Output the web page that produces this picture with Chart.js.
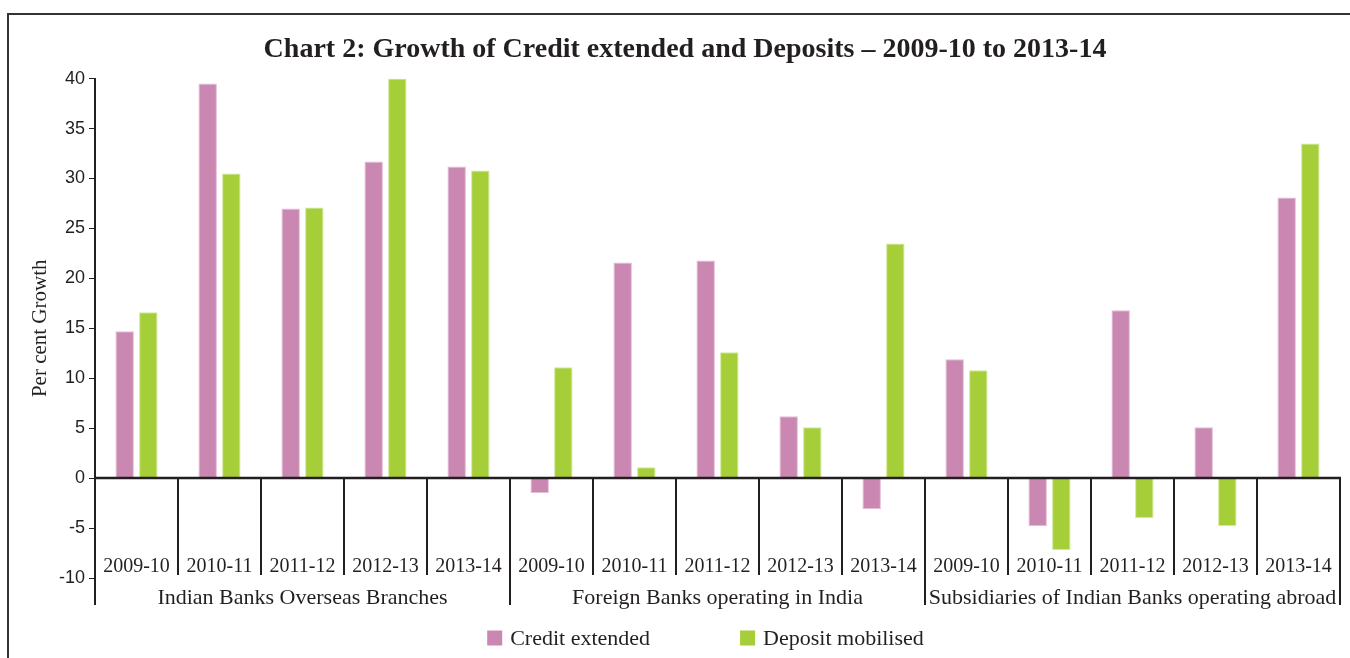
<!DOCTYPE html>
<html>
<head>
<meta charset="utf-8">
<script src="https://cdn.jsdelivr.net/npm/chart.js@4"></script>
<style>
  html, body { margin: 0; padding: 0; background: #fff; }
  #wrap { width: 1350px; height: 658px; }
</style>
</head>
<body>
<div id="wrap"><canvas id="chart" width="1350" height="658"></canvas></div>
<script>
const years = ['2009-10', '2010-11', '2011-12', '2012-13', '2013-14'];
const groups = [
  'Indian Banks Overseas Branches',
  'Foreign Banks operating in India',
  'Subsidiaries of Indian Banks operating abroad'
];
const categories = [...years, ...years, ...years];

const creditExtended = [14.7, 39.5, 27.0, 31.7, 31.2, -1.5, 21.6, 21.8, 6.2, -3.1, 11.9, -4.8, 16.8, 5.1, 28.1];
const depositMobilised = [16.6, 30.5, 27.1, 40.0, 30.8, 11.1, 1.1, 12.6, 5.1, 23.5, 10.8, -7.2, -4.0, -4.8, 33.5];

const yMin = -10;
const yMax = 40;
const yStep = 5;

const ink = '#231f20';
const pink = '#c987b1';
const green = '#a6ce39';
const serif = "'Liberation Serif', 'DejaVu Serif', serif";

// zero line, category dividers, year / group labels, legend, frame
const decorations = {
  id: 'decorations',
  beforeDraw(chart) {
    const ctx = chart.ctx;
    ctx.save();
    ctx.strokeStyle = '#333';
    ctx.lineWidth = 2;
    ctx.beginPath();
    ctx.moveTo(8, chart.height);
    ctx.lineTo(8, 14);
    ctx.lineTo(chart.width, 14);
    ctx.stroke();
    ctx.restore();
  },
  afterDatasetsDraw(chart) {
    const ctx = chart.ctx;
    const x = chart.scales.x;
    const y = chart.scales.y;
    const area = chart.chartArea;
    const zero = y.getPixelForValue(0);
    const bottom = y.getPixelForValue(yMin);
    const step = x.getPixelForValue(1) - x.getPixelForValue(0);

    ctx.save();
    ctx.strokeStyle = ink;
    ctx.lineCap = 'butt';

    ctx.lineWidth = 2.5;
    ctx.beginPath();
    ctx.moveTo(area.left, zero);
    ctx.lineTo(area.right + 1, zero);
    ctx.stroke();

    ctx.lineWidth = 2;
    for (let i = 0; i <= categories.length; i++) {
      const bx = x.getPixelForValue(i) - step / 2;
      const groupEdge = i % years.length === 0;
      ctx.beginPath();
      ctx.moveTo(bx, i === 0 ? bottom : zero);
      ctx.lineTo(bx, groupEdge ? bottom + 27 : bottom - 3);
      ctx.stroke();
    }

    ctx.fillStyle = ink;
    ctx.textAlign = 'center';
    ctx.textBaseline = 'middle';
    ctx.font = '20px ' + serif;
    categories.forEach((c, i) => {
      ctx.fillText(c, x.getPixelForValue(i), bottom - 11);
    });
    ctx.font = '22px ' + serif;
    groups.forEach((g, gi) => {
      const first = x.getPixelForValue(gi * years.length);
      const last = x.getPixelForValue(gi * years.length + years.length - 1);
      ctx.fillText(g, (first + last) / 2, bottom + 20);
    });

    // legend
    ctx.font = '22px ' + serif;
    ctx.textAlign = 'left';
    const box = 15;
    const gap = 8;
    const itemGap = 90;
    const items = chart.data.datasets.map(d => ({ text: d.label, color: d.backgroundColor }));
    const widths = items.map(it => box + gap + ctx.measureText(it.text).width);
    const total = widths.reduce((a, b) => a + b, 0) + itemGap * (items.length - 1);
    let lx = (area.left + area.right) / 2 - total / 2 - 12;
    const ly = 638;
    items.forEach((it, i) => {
      ctx.fillStyle = it.color;
      ctx.fillRect(lx, ly - box / 2, box, box);
      ctx.fillStyle = ink;
      ctx.fillText(it.text, lx + box + gap, ly + 1);
      lx += widths[i] + itemGap;
    });
    ctx.restore();
  }
};

const chart = new Chart(document.getElementById('chart'), {
  type: 'bar',
  data: {
    labels: categories,
    datasets: [
      {
        label: 'Credit extended',
        data: creditExtended,
        backgroundColor: pink,
        borderColor: '#e3bcd5',
        borderWidth: 1
      },
      {
        label: 'Deposit mobilised',
        data: depositMobilised,
        backgroundColor: green,
        borderColor: '#d2e89a',
        borderWidth: 1
      }
    ]
  },
  options: {
    responsive: false,
    animation: false,
    events: [],
    categoryPercentage: 0.57,
    barPercentage: 0.78,
    layout: { padding: { top: 0, left: 30, right: 10, bottom: 80 } },
    plugins: {
      legend: { display: false },
      tooltip: { enabled: false },
      title: {
        display: true,
        text: 'Chart 2: Growth of Credit extended and Deposits \u2013 2009-10 to 2013-14',
        color: ink,
        font: { family: serif, size: 28, weight: 'bold', lineHeight: 1.2 },
        padding: { top: 33, bottom: 12 }
      }
    },
    scales: {
      x: { display: false, offset: true },
      y: {
        min: yMin,
        max: yMax,
        ticks: {
          stepSize: yStep,
          color: ink,
          padding: 4,
          font: { family: "'Liberation Sans', 'Open Sans', sans-serif", size: 18 }
        },
        grid: { drawOnChartArea: false, drawTicks: true, tickLength: 6, color: ink, lineWidth: 1 },
        border: { display: true, color: ink, width: 2 },
        title: {
          display: true,
          text: 'Per cent Growth',
          color: ink,
          font: { family: serif, size: 21, lineHeight: 1 },
          padding: { top: 0, bottom: 0 }
        },
        afterFit(scale) { scale.width = 65; }
      }
    }
  },
  plugins: [decorations]
});
</script>
</body>
</html>
